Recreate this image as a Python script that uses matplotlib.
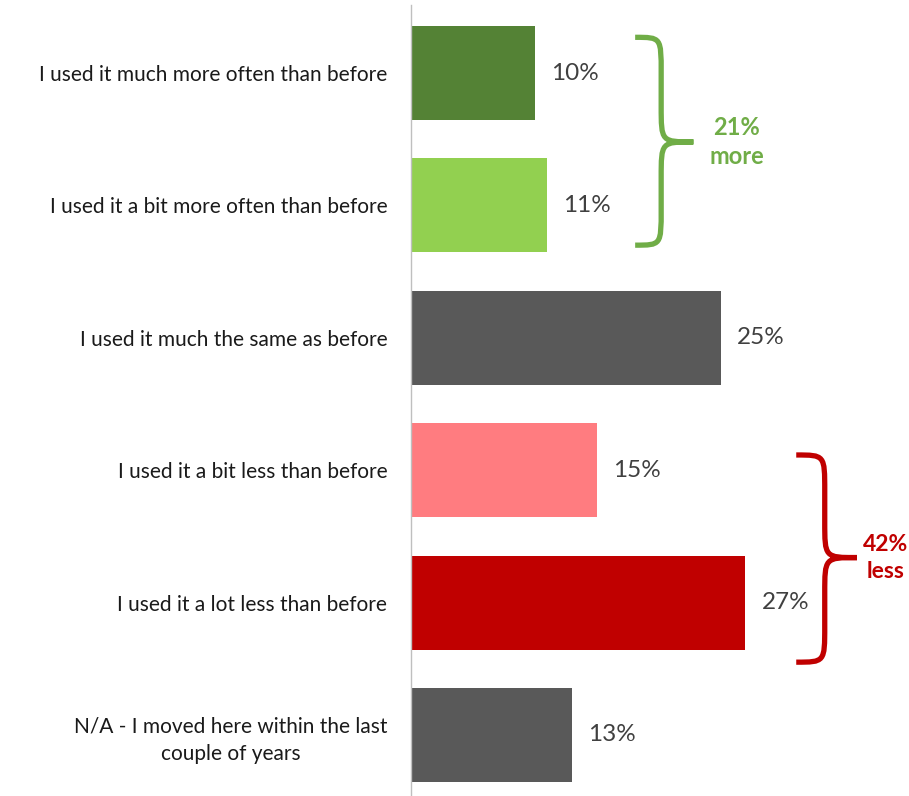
import matplotlib
matplotlib.use("Agg")
import matplotlib.pyplot as plt
from matplotlib.path import Path
from matplotlib.patches import PathPatch

plt.rcParams['font.family'] = ['Lato', 'DejaVu Sans']

# survey answers, top to bottom
categories = [
    "I used it much more often than before",
    "I used it a bit more often than before",
    "I used it much the same as before",
    "I used it a bit less than before",
    "I used it a lot less than before",
    "N/A - I moved here within the last\ncouple of years",
]
shares = [10, 11, 25, 15, 27, 13]
bar_colors = ["#548235", "#92D050", "#595959", "#FF7C80", "#C00000", "#595959"]

more_total = shares[0] + shares[1]
less_total = shares[3] + shares[4]

GREEN = "#70AD47"
RED = "#C00000"


def brace(ax, x0, xv, xt, ytop, ymid, ybot, r, color):
    # right-facing curly brace drawn in data coordinates
    verts = [
        (x0, ytop), (xv, ytop), (xv, ytop), (xv, ytop + r),
        (xv, ymid - r),
        (xv, ymid), (xv, ymid), (xt, ymid),
        (xv, ymid), (xv, ymid), (xv, ymid + r),
        (xv, ybot - r),
        (xv, ybot), (xv, ybot), (x0, ybot),
    ]
    codes = [Path.MOVETO, Path.CURVE4, Path.CURVE4, Path.CURVE4,
             Path.LINETO,
             Path.CURVE4, Path.CURVE4, Path.CURVE4,
             Path.CURVE4, Path.CURVE4, Path.CURVE4,
             Path.LINETO,
             Path.CURVE4, Path.CURVE4, Path.CURVE4]
    ax.add_patch(PathPatch(Path(verts, codes), fill=False, edgecolor=color,
                           lw=3.8, capstyle='butt', clip_on=False))


fig = plt.figure(figsize=(9.09, 7.96), dpi=100)
ax = fig.add_axes([0.452, 0.0, 0.548, 0.9937])

ypos = list(range(len(categories)))
ax.barh(ypos, shares, height=0.71, color=bar_colors)

for y, v in zip(ypos, shares):
    ax.text(v + 1.3, y, f"{v}%", ha='left', va='center', fontsize=17.5,
            color="#404040")

ax.set_xlim(0, 40.2)
ax.set_ylim(5.461, -0.514)
ax.set_yticks(ypos)
ax.set_yticklabels(categories, fontsize=15, color="#1a1a1a",
                   linespacing=1.45)
for lbl in ax.get_yticklabels():
    lbl.set_multialignment('center')
ax.tick_params(axis='y', length=0, pad=17)
ax.set_xticks([])

for side in ['top', 'right', 'bottom']:
    ax.spines[side].set_visible(False)
ax.spines['left'].set_color("#BFBFBF")
ax.spines['left'].set_linewidth(1.0)

brace(ax, 18.1, 20.2, 22.8, -0.27, 0.52, 1.30, 0.27, GREEN)
brace(ax, 31.1, 33.4, 36.0, 2.885, 3.66, 4.45, 0.27, RED)

ax.text(26.3, 0.52, f"{more_total}%\nmore", ha='center', va='center',
        fontsize=17, fontweight='bold', color=GREEN, linespacing=1.35,
        clip_on=False)
ax.text(38.3, 3.66, f"{less_total}%\nless", ha='center', va='center',
        fontsize=16.5, fontweight='bold', color=RED, linespacing=1.35,
        clip_on=False)

fig.savefig("out.png", dpi=100)
